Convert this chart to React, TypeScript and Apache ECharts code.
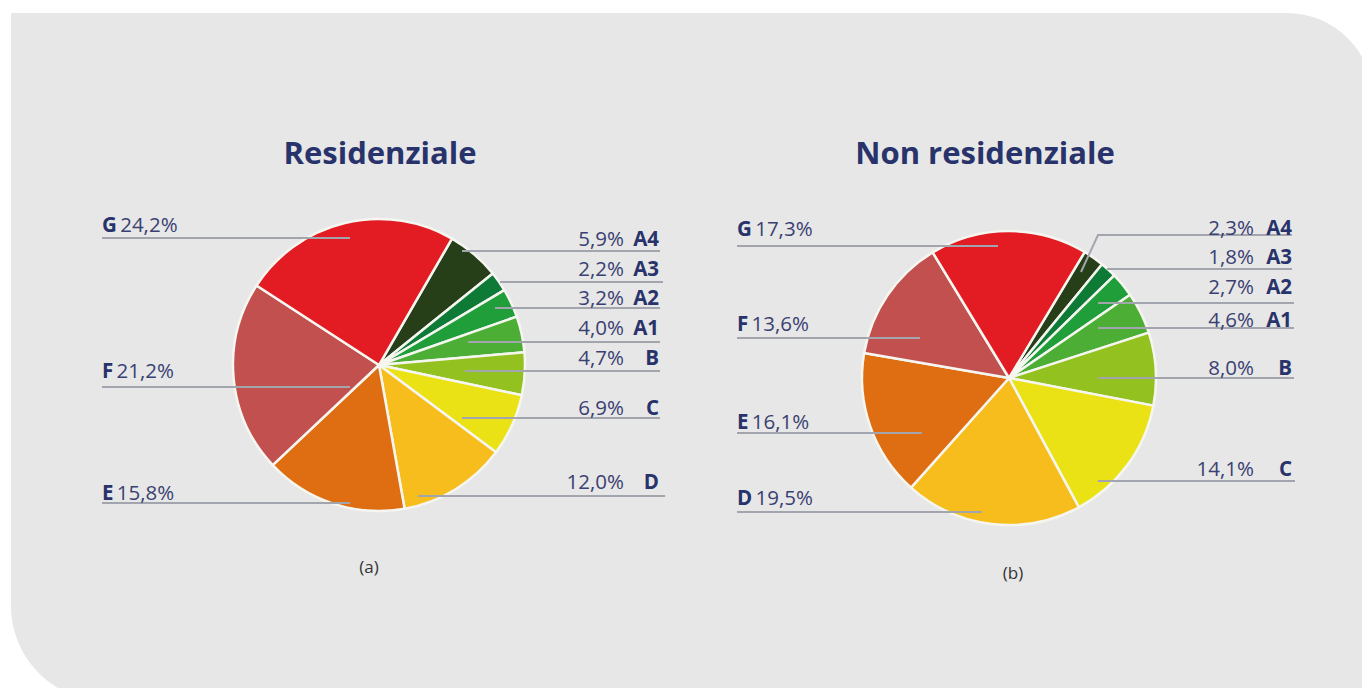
import { useEffect, useRef } from "react";
import * as echarts from "echarts";

// ---- data ----
const classes = ["A4", "A3", "A2", "A1", "B", "C", "D", "E", "F", "G"];
const residentialValues = [5.9, 2.2, 3.2, 4.0, 4.7, 6.9, 12.0, 15.8, 21.2, 24.2];
const nonResidentialValues = [2.3, 1.8, 2.7, 4.6, 8.0, 14.1, 19.5, 16.1, 13.6, 17.3];
const titles = ["Residenziale", "Non residenziale"];
const captions = ["(a)", "(b)"];

// ---- styles ----
const classColors = [
  "#263f19", "#0d7a36", "#1f9e3a", "#4cae34", "#93c11f",
  "#ebe216", "#f7bd1c", "#df6d12", "#c1504f", "#e31b23",
];
const navy = "#27336a";
const textColor = "#3a4172";
const leaderColor = "#a3a5ae";
const FONT = "Open Sans";
const LABEL_SIZE = 20.5;

// ---- annotation placement ----
type Layout = {
  center: number[]; radius: number; start: number; rightCount: number;
  leftX: number; rightX: number; valueX: number;
  labelY: number[]; lineY: number[]; lineInner: number[]; lineOuterRight: number[];
  elbow: (number[] | null)[];
};
const resLayout: Layout = {
  center: [379, 365], radius: 146, start: 60, rightCount: 7,
  leftX: 102, rightX: 659, valueX: 624,
  labelY: [238, 268, 297, 327, 357, 407, 481, 492, 370, 224],
  lineY: [251, 282, 308, 342, 371, 418, 496, 503, 387, 238],
  lineInner: [462, 500, 495, 468, 465, 462, 418, 350, 350, 350],
  lineOuterRight: [660, 663, 660, 660, 660, 660, 665],
  elbow: [null, null, null, null, null, null, null, null, null, null],
};
const nonLayout: Layout = {
  center: [1009, 378], radius: 147, start: 59, rightCount: 6,
  leftX: 737, rightX: 1292, valueX: 1254,
  labelY: [227, 256, 286, 319, 367, 468, 497, 421, 323, 228],
  lineY: [235, 269, 303, 328, 378, 481, 512, 433, 338, 246],
  lineInner: [1098, 1107, 1098, 1098, 1098, 1098, 982, 922, 920, 998],
  lineOuterRight: [1292, 1292, 1294, 1294, 1294, 1295],
  elbow: [[1081, 272], null, null, null, null, null, null, null, null, null],
};

const fmt = (v: number) => v.toFixed(1).replace(".", ",") + "%";

function makeSeries(values: number[], L: Layout) {
  return {
    type: "pie",
    center: L.center,
    radius: L.radius,
    startAngle: L.start,
    clockwise: true,
    data: values.map((v, i) => ({
      name: classes[i],
      value: v,
      itemStyle: { color: classColors[i] },
    })),
    itemStyle: { borderColor: "#f6f6f0", borderWidth: 2.5 },
    label: { show: false },
    labelLine: { show: false },
    emphasis: { disabled: true },
  };
}

function makeAnnotations(values: number[], L: Layout) {
  const els: any[] = [];
  values.forEach((v, i) => {
    const right = i < L.rightCount;
    const y = L.lineY[i];
    const pts: number[][] = [];
    const el = L.elbow[i];
    if (el) pts.push(el);
    pts.push([L.lineInner[i], y]);
    pts.push([right ? L.lineOuterRight[i] : L.leftX, y]);
    els.push({
      type: "polyline",
      z: 20,
      silent: true,
      shape: { points: pts },
      style: { stroke: leaderColor, lineWidth: 2, fill: null },
    });
    if (right) {
      els.push({
        type: "text", z: 20, x: L.valueX, y: L.labelY[i],
        style: {
          text: fmt(v), align: "right", verticalAlign: "middle",
          fontFamily: FONT, fontSize: LABEL_SIZE, fill: textColor,
        },
      });
      els.push({
        type: "text", z: 20, x: L.rightX, y: L.labelY[i],
        style: {
          text: classes[i], align: "right", verticalAlign: "middle",
          fontFamily: FONT, fontSize: LABEL_SIZE, fontWeight: "bold", fill: navy,
        },
      });
    } else {
      els.push({
        type: "text", z: 20, x: L.leftX, y: L.labelY[i],
        style: {
          text: `{k|${classes[i]}} {v|${fmt(v)}}`,
          align: "left", verticalAlign: "middle",
          rich: {
            k: { fontFamily: FONT, fontSize: LABEL_SIZE, fontWeight: "bold", fill: navy },
            v: { fontFamily: FONT, fontSize: LABEL_SIZE, fill: textColor },
          },
        },
      });
    }
  });
  return els;
}

export default function App() {
  const ref = useRef<HTMLDivElement>(null);
  useEffect(() => {
    document.body.style.margin = "0";
    const chart = echarts.init(ref.current!, undefined, { renderer: "svg" });
    chart.setOption({
      animation: false,
      backgroundColor: "#ffffff",
      graphic: [
        {
          type: "rect",
          z: -10,
          silent: true,
          shape: { x: 11, y: 13, width: 1362, height: 688, r: [0, 86, 0, 95] },
          style: { fill: "#e7e7e7" },
        },
        {
          type: "text",
          x: 380, y: 152,
          style: {
            text: titles[0], align: "center", verticalAlign: "middle",
            fontFamily: FONT, fontWeight: "bold", fontSize: 31, fill: navy,
          },
        },
        {
          type: "text",
          x: 985, y: 152,
          style: {
            text: titles[1], align: "center", verticalAlign: "middle",
            fontFamily: FONT, fontWeight: "bold", fontSize: 31, fill: navy,
          },
        },
        {
          type: "text",
          x: 369, y: 566,
          style: {
            text: captions[0], align: "center", verticalAlign: "middle",
            fontFamily: FONT, fontSize: 17, fill: "#333333",
          },
        },
        {
          type: "text",
          x: 1013, y: 572,
          style: {
            text: captions[1], align: "center", verticalAlign: "middle",
            fontFamily: FONT, fontSize: 17, fill: "#333333",
          },
        },
        ...makeAnnotations(residentialValues, resLayout),
        ...makeAnnotations(nonResidentialValues, nonLayout),
      ],
      series: [
        makeSeries(residentialValues, resLayout),
        makeSeries(nonResidentialValues, nonLayout),
      ],
    });
    return () => chart.dispose();
  }, []);
  return (
    <div
      ref={ref}
      style={{ position: "absolute", left: 0, top: 0, width: 1362, height: 688 }}
    />
  );
}
